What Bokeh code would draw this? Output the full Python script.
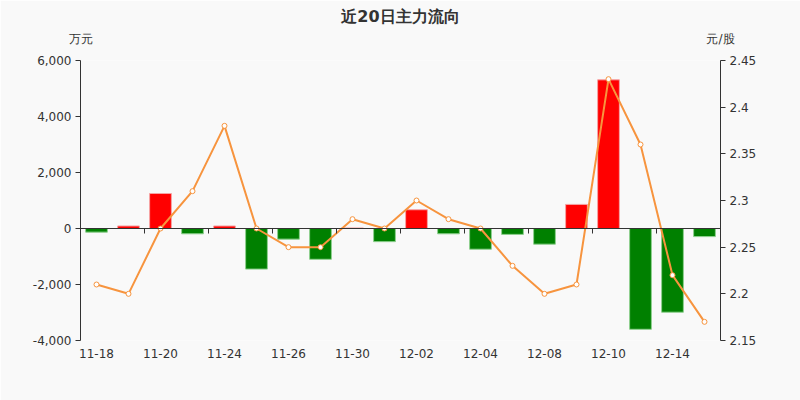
from bokeh.plotting import figure
from bokeh.models import (Range1d, LinearAxis, FixedTicker, NumeralTickFormatter,
                          CustomJSTickFormatter, ColumnDataSource)
from bokeh.embed import file_html
from bokeh.resources import INLINE

dates = ["11-18", "11-19", "11-20", "11-23", "11-24", "11-25", "11-26", "11-27", "11-30", "12-01",
         "12-02", "12-03", "12-04", "12-07", "12-08", "12-09", "12-10", "12-11", "12-14", "12-15"]
flow = [-130, 90, 1250, -190, 90, -1450, -380, -1100, 20, -470,
        670, -190, -740, -210, -560, 860, 5310, -3600, -2990, -290]
price = [2.21, 2.20, 2.27, 2.31, 2.38, 2.27, 2.25, 2.25, 2.28, 2.27,
         2.30, 2.28, 2.27, 2.23, 2.20, 2.21, 2.43, 2.36, 2.22, 2.17]
shown_labels = ["11-18", "11-20", "11-24", "11-26", "11-30", "12-02", "12-04", "12-08", "12-10", "12-14"]
title_text = "近20日主力流向"
left_unit = "万元"
right_unit = "元/股"

FONT = "DejaVu Sans"
BG = "#f9f9f9"
TXT = "#333333"

xs = [i + 0.5 for i in range(len(dates))]
colors = ["#ff0000" if v >= 0 else "#008000" for v in flow]
edges = ["#f5a3a3" if v >= 0 else "#8fd08f" for v in flow]
src = ColumnDataSource(dict(x=xs, flow=flow, price=price, color=colors, edge=edges, date=dates))

p = figure(width=800, height=400, output_backend="svg", toolbar_location=None,
           x_range=Range1d(0, len(dates)), y_range=Range1d(-4000, 6000),
           min_border_left=80, min_border_right=80, min_border_top=60, min_border_bottom=60,
           background_fill_color=BG, border_fill_color=BG, outline_line_color=None,
           x_axis_location=None, y_axis_location=None)
p.extra_y_ranges = {"price": Range1d(2.15, 2.45)}
p.xgrid.visible = False
p.ygrid.visible = False

p.title.text = title_text
p.title.align = "center"
p.title.text_font = FONT
p.title.text_font_size = "16px"
p.title.text_font_style = "bold"
p.title.text_color = TXT
p.title.standoff = 5

la = LinearAxis(ticker=FixedTicker(ticks=[-4000, -2000, 0, 2000, 4000, 6000]),
                formatter=NumeralTickFormatter(format="0,0"))
ra = LinearAxis(y_range_name="price",
                ticker=FixedTicker(ticks=[2.15, 2.2, 2.25, 2.3, 2.35, 2.4, 2.45]),
                formatter=CustomJSTickFormatter(code="return tick.toFixed(2).replace(/0$/, '');"))
for ax in (la, ra):
    ax.axis_line_color = TXT
    ax.major_tick_line_color = TXT
    ax.major_tick_out = 5
    ax.major_tick_in = 0
    ax.minor_tick_line_color = None
    ax.major_label_text_font = FONT
    ax.major_label_text_font_size = "12px"
    ax.major_label_text_color = TXT
    ax.major_label_standoff = 4
p.add_layout(la, "left")
p.add_layout(ra, "right")

# unit labels above the two value axes
ua = LinearAxis(ticker=FixedTicker(ticks=[0, len(dates)]),
                major_label_overrides={0: left_unit, len(dates): right_unit})
ua.axis_line_color = None
ua.major_tick_line_color = None
ua.minor_tick_line_color = None
ua.major_label_text_font = FONT
ua.major_label_text_font_size = "12px"
ua.major_label_text_color = TXT
ua.major_label_standoff = 9
p.add_layout(ua, "above")

centers = [xs[dates.index(d)] for d in shown_labels]
ba = LinearAxis(ticker=FixedTicker(ticks=centers),
                major_label_overrides={c: d for c, d in zip(centers, shown_labels)})
ba.axis_line_color = None
ba.major_tick_line_color = None
ba.minor_tick_line_color = None
ba.major_label_text_font = FONT
ba.major_label_text_font_size = "12px"
ba.major_label_text_color = TXT
ba.major_label_standoff = 2
p.add_layout(ba, "below")

bounds = list(range(2, len(dates), 2))
za = LinearAxis(ticker=FixedTicker(ticks=bounds), fixed_location=0,
                formatter=CustomJSTickFormatter(code="return '';"))
za.axis_line_color = TXT
za.major_tick_line_color = TXT
za.major_tick_out = 5
za.major_tick_in = 0
za.minor_tick_line_color = None
p.add_layout(za, "below")

p.vbar(x="x", top="flow", bottom=0, width=0.68, fill_color="color", line_color="edge",
       line_width=1, source=src)
p.line(x="x", y="price", y_range_name="price", line_color="#f7943e", line_width=2, source=src)
p.scatter(x="x", y="price", y_range_name="price", size=5, fill_color="white",
          line_color="#f7943e", line_width=1, source=src)

open("out.html", "w").write(file_html(p, INLINE))
